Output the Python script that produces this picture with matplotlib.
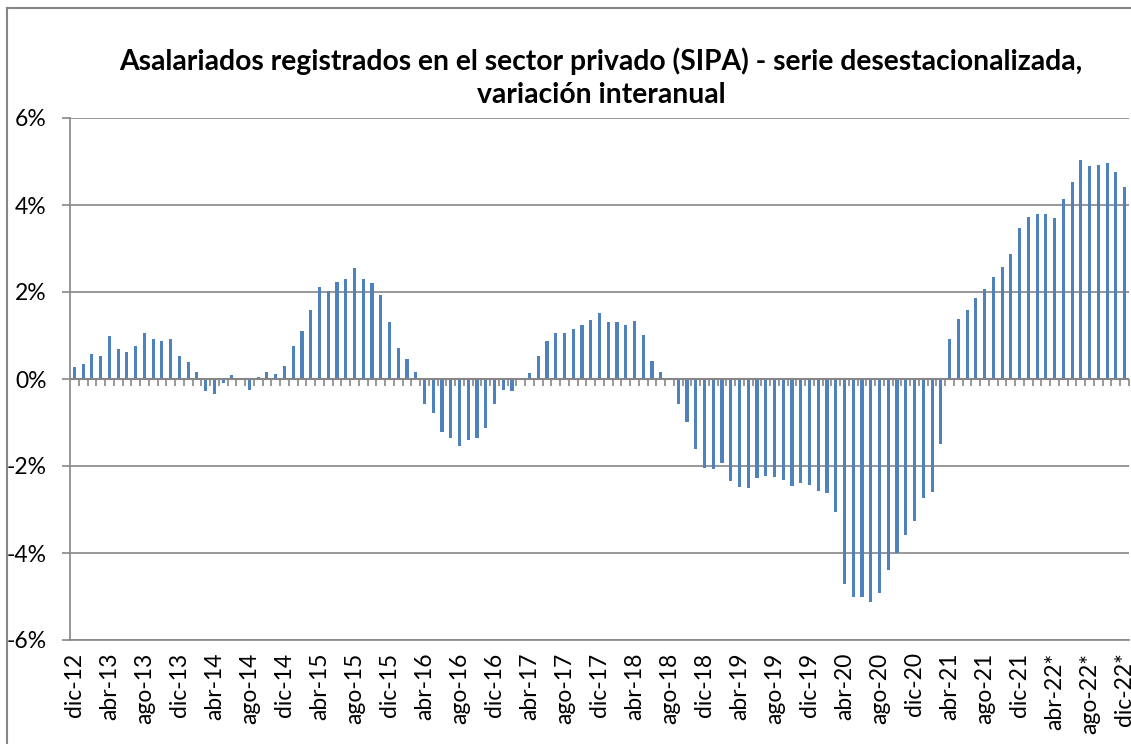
import matplotlib
matplotlib.use("Agg")
import matplotlib.pyplot as plt
from matplotlib.lines import Line2D
from matplotlib.ticker import FuncFormatter

#------------------
# Data (yoy % change, monthly, dic-12 to dic-22)
#------------------
values = [
    0.27, 0.35, 0.58, 0.54, 0.98, 0.69, 0.62, 0.75, 1.05, 0.92, 0.87, 0.92, 0.52, 0.40, 0.16, -0.27,
    -0.35, -0.10, 0.10, 0.02, -0.25, 0.05, 0.16, 0.12, 0.29, 0.77, 1.11, 1.59, 2.11, 2.03, 2.23, 2.29,
    2.55, 2.29, 2.21, 1.92, 1.30, 0.72, 0.45, 0.17, -0.58, -0.79, -1.22, -1.35, -1.55, -1.41, -1.35, -1.12,
    -0.58, -0.25, -0.28, 0.01, 0.14, 0.52, 0.88, 1.06, 1.05, 1.16, 1.23, 1.35, 1.52, 1.32, 1.30, 1.23,
    1.33, 1.01, 0.42, 0.15, 0.00, -0.57, -0.99, -1.60, -2.05, -2.06, -1.94, -2.34, -2.48, -2.50, -2.28, -2.23,
    -2.25, -2.32, -2.46, -2.38, -2.43, -2.58, -2.62, -3.06, -4.72, -5.02, -5.00, -5.12, -4.91, -4.38, -4.00, -3.58,
    -3.26, -2.74, -2.59, -1.49, 0.91, 1.37, 1.58, 1.87, 2.08, 2.35, 2.58, 2.88, 3.47, 3.72, 3.79, 3.79,
    3.69, 4.14, 4.53, 5.04, 4.90, 4.92, 4.96, 4.76, 4.41,
]

# one label every 4 months
tick_labels = [
    "dic-12", "abr-13", "ago-13", "dic-13", "abr-14", "ago-14", "dic-14",
    "abr-15", "ago-15", "dic-15", "abr-16", "ago-16", "dic-16",
    "abr-17", "ago-17", "dic-17", "abr-18", "ago-18", "dic-18",
    "abr-19", "ago-19", "dic-19", "abr-20", "ago-20", "dic-20",
    "abr-21", "ago-21", "dic-21", "abr-22*", "ago-22*", "dic-22*",
]

title = ("Asalariados registrados en el sector privado (SIPA) - serie desestacionalizada,\n"
         "variación interanual")

#------------------
# Plot
#------------------
plt.rcParams["font.family"] = ["Lato", "DejaVu Sans"]
grey = "#868686"
blue = "#4F81BD"

W, H = 1131, 744
fig = plt.figure(figsize=(W / 100, H / 100), dpi=100)
ax = fig.add_axes([70 / W, 1 - 640 / H, 1059 / W, 522 / H])

x = list(range(len(values)))
ax.bar(x, values, width=0.36, color=blue, zorder=3)

ax.set_xlim(-0.5, len(values) - 0.5)
ax.set_ylim(-6, 6)
ax.set_yticks(range(-6, 7, 2))
ax.yaxis.set_major_formatter(FuncFormatter(lambda v, p: f"{v:.0f}%"))
ax.grid(axis="y", color=grey, linewidth=1.2, zorder=0)

ax.set_xticks(x[::4])
ax.set_xticklabels(tick_labels, rotation=90, fontsize=16.5)
ax.tick_params(axis="x", length=0, pad=9)
ax.tick_params(axis="y", labelsize=16.5, length=6, width=1.2, color=grey, pad=11)

for side in ["top", "right"]:
    ax.spines[side].set_visible(False)
for side in ["left", "bottom"]:
    ax.spines[side].set_color(grey)
    ax.spines[side].set_linewidth(1.2)

# category axis crosses at zero, with little tick marks between bars
ax.axhline(0, color=grey, linewidth=1.5, zorder=4)
bounds = [i + 0.5 for i in x]
ax.plot(bounds, [0] * len(bounds), linestyle="none", marker=3,
        markersize=5, markeredgewidth=1.2, color=grey, zorder=4)

fig.text(601 / W, 1 - 78 / H, title, ha="center", va="center",
         fontsize=20.3, fontweight="bold", linespacing=1.32)

# chart frame (cut at the right and bottom in the original)
fig.add_artist(Line2D([7 / W, 7 / W], [0, 1 - 8 / H], color=grey, linewidth=1.5))
fig.add_artist(Line2D([7 / W, 1], [1 - 8 / H, 1 - 8 / H], color=grey, linewidth=1.5))

plt.savefig("out.png", dpi=100)
plt.close()
